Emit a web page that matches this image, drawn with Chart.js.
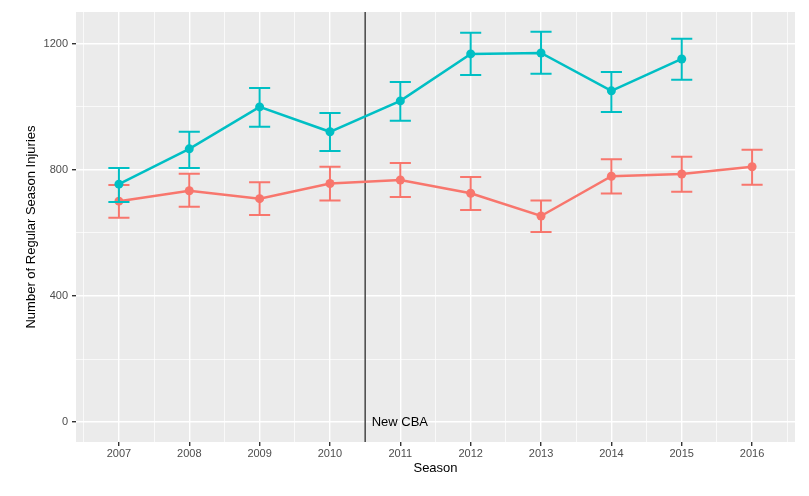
<!DOCTYPE html>
<html>
<head>
<meta charset="utf-8">
<script src="https://cdn.jsdelivr.net/npm/chart.js@4"></script>
<style>
  html, body { margin: 0; background: #fff; }
</style>
</head>
<body>
<canvas id="injuryChart" width="809" height="496"></canvas>
<script>
// seasons and values
const seasons = [2007, 2008, 2009, 2010, 2011, 2012, 2013, 2014, 2015, 2016];
const tealVals = [755, 867, 1000, 921, 1019, 1168, 1171, 1051, 1152, null];
const tealLow  = [698, 806, 937, 860, 956, 1101, 1105, 984, 1086, null];
const tealHigh = [806, 921, 1060, 981, 1079, 1235, 1238, 1111, 1216, null];
const redVals  = [701, 734, 709, 757, 768, 726, 654, 780, 787, 810];
const redLow   = [648, 683, 657, 703, 714, 673, 603, 725, 731, 753];
const redHigh  = [752, 788, 761, 810, 822, 778, 703, 834, 842, 864];
const xTicks = [2006.5, 2007, 2007.5, 2008, 2008.5, 2009, 2009.5, 2010, 2010.5, 2011, 2011.5,
                2012, 2012.5, 2013, 2013.5, 2014, 2014.5, 2015, 2015.5, 2016, 2016.5];
const yTicks = [0, 200, 400, 600, 800, 1000, 1200];
const cbaSeason = 2010.5;
const cbaLabel = 'New CBA';

const TEAL = '#00BFC4';
const RED = '#F8766D';
const FONT = "'Liberation Sans', Arial, sans-serif";

function toPoints(vals) {
    return seasons.map((s, i) => ({ x: s, y: vals[i] }));
}

const panelBg = {
    id: 'panelBg',
    beforeDraw(chart) {
        const { ctx, chartArea: a } = chart;
        ctx.save();
        ctx.fillStyle = '#EBEBEB';
        ctx.fillRect(a.left, a.top, a.right - a.left, a.bottom - a.top);
        ctx.restore();
    }
};

// vertical line for the new CBA, under the data
const cbaLine = {
    id: 'cbaLine',
    beforeDatasetsDraw(chart) {
        const { ctx, chartArea: a, scales } = chart;
        const x = scales.x.getPixelForValue(cbaSeason);
        ctx.save();
        ctx.strokeStyle = '#1a1a1a';
        ctx.lineWidth = 1.2;
        ctx.beginPath();
        ctx.moveTo(x, a.top);
        ctx.lineTo(x, a.bottom);
        ctx.stroke();
        ctx.fillStyle = '#000';
        ctx.font = '13px ' + FONT;
        ctx.textBaseline = 'middle';
        ctx.fillText(cbaLabel, x + 6.5, scales.y.getPixelForValue(0));
        ctx.restore();
    }
};

// error bars drawn with each dataset
const errorBars = {
    id: 'errorBars',
    afterDatasetDraw(chart, args) {
        const ds = chart.data.datasets[args.index];
        if (!ds.low) return;
        const { ctx, scales } = chart;
        const half = 0.15;
        ctx.save();
        ctx.strokeStyle = ds.borderColor;
        ctx.lineWidth = 2;
        seasons.forEach((s, i) => {
            if (ds.low[i] == null) return;
            const x = scales.x.getPixelForValue(s);
            const x0 = scales.x.getPixelForValue(s - half);
            const x1 = scales.x.getPixelForValue(s + half);
            const yl = scales.y.getPixelForValue(ds.low[i]);
            const yh = scales.y.getPixelForValue(ds.high[i]);
            ctx.beginPath();
            ctx.moveTo(x, yl); ctx.lineTo(x, yh);
            ctx.moveTo(x0, yl); ctx.lineTo(x1, yl);
            ctx.moveTo(x0, yh); ctx.lineTo(x1, yh);
            ctx.stroke();
        });
        ctx.restore();
    }
};

const ctx = document.getElementById('injuryChart').getContext('2d');
new Chart(ctx, {
    type: 'line',
    data: {
        datasets: [{
            data: toPoints(tealVals),
            low: tealLow,
            high: tealHigh,
            borderColor: TEAL,
            backgroundColor: TEAL,
            pointBackgroundColor: TEAL,
            borderWidth: 2.5,
            pointRadius: 4.5,
            pointBorderWidth: 0,
            order: 0
        }, {
            data: toPoints(redVals),
            low: redLow,
            high: redHigh,
            borderColor: RED,
            backgroundColor: RED,
            pointBackgroundColor: RED,
            borderWidth: 2.5,
            pointRadius: 4.5,
            pointBorderWidth: 0,
            order: 1
        }]
    },
    options: {
        responsive: false,
        animation: false,
        layout: { padding: { left: 20, right: 14, top: 12, bottom: 12 } },
        plugins: {
            legend: { display: false },
            tooltip: { enabled: false }
        },
        scales: {
            x: {
                type: 'linear',
                min: 2006.39,
                max: 2016.61,
                afterBuildTicks: (scale) => { scale.ticks = xTicks.map(v => ({ value: v })); },
                afterFit: (scale) => { scale.height = 42; },
                grid: {
                    color: '#FFFFFF',
                    lineWidth: (c) => Number.isInteger(c.tick.value) ? 1.4 : 0.7,
                    tickColor: (c) => Number.isInteger(c.tick.value) ? '#333333' : 'rgba(0,0,0,0)',
                    tickLength: 4
                },
                border: { display: false },
                ticks: {
                    autoSkip: false,
                    maxRotation: 0,
                    padding: 1,
                    color: '#4D4D4D',
                    font: { size: 11, family: FONT },
                    callback: (v) => Number.isInteger(v) ? String(v) : ''
                },
                title: {
                    display: true,
                    text: 'Season',
                    color: '#000',
                    font: { size: 13, family: FONT },
                    padding: { top: 0, bottom: 8 }
                }
            },
            y: {
                min: -63,
                max: 1301,
                afterBuildTicks: (scale) => { scale.ticks = yTicks.map(v => ({ value: v })); },
                afterFit: (scale) => { scale.width = 56; },
                grid: {
                    color: '#FFFFFF',
                    lineWidth: (c) => c.tick.value % 400 === 0 ? 1.4 : 0.7,
                    tickColor: (c) => c.tick.value % 400 === 0 ? '#333333' : 'rgba(0,0,0,0)',
                    tickLength: 4
                },
                border: { display: false },
                ticks: {
                    padding: 4,
                    color: '#4D4D4D',
                    font: { size: 11, family: FONT },
                    callback: (v) => v % 400 === 0 ? String(v) : ''
                },
                title: {
                    display: true,
                    text: 'Number of Regular Season Injuries',
                    color: '#000',
                    font: { size: 13, family: FONT },
                    padding: { top: 4, bottom: 0 }
                }
            }
        }
    },
    plugins: [panelBg, cbaLine, errorBars]
});
</script>
</body>
</html>
